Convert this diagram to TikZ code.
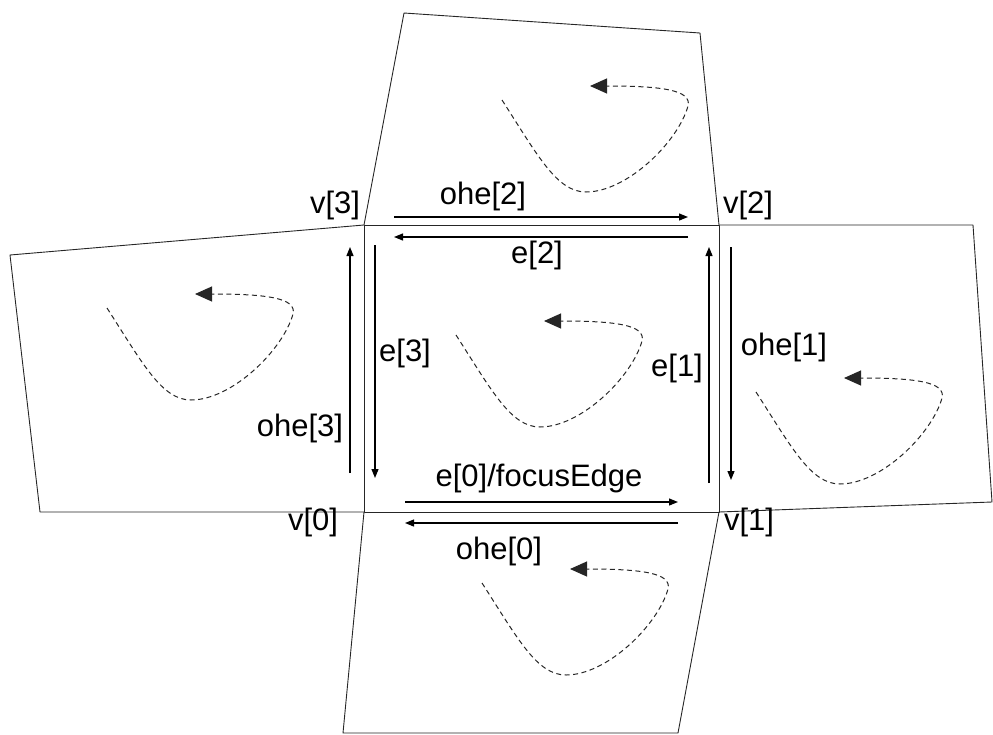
\documentclass[tikz,border=0pt]{standalone}
\usepackage{fontspec}
\setmainfont{Liberation Sans}
\usetikzlibrary{arrows.meta}

\tikzset{
  face/.style={draw=black!85, line width=0.9pt, line join=round},
  halfedge/.style={black, line width=1.2pt, -{Triangle[length=9pt,width=7pt]}},
  lbl/.style={font=\fontsize{31}{36}\selectfont, inner sep=0pt},
  turn/.pic={
    \draw[black!85, line width=1pt, dash pattern=on 5pt off 3.5pt,
          -{Triangle[length=17pt,width=15pt]}]
      (0,0) .. controls (36,56) and (55,92) .. (84,92)
            .. controls (125,92) and (176,42) .. (186,6)
            .. controls (190,-10) and (160,-14) .. (88,-14);
  }
}

\begin{document}
\begin{tikzpicture}[x=1pt, y=-1pt]
  \useasboundingbox (0,0) rectangle (993,734);

  % vertices of the focus face and its neighbours
  \coordinate (v0) at (364,512);
  \coordinate (v1) at (719,512);
  \coordinate (v2) at (719,225);
  \coordinate (v3) at (364,225);
  \coordinate (t3) at (404,13);
  \coordinate (t2) at (700,33);
  \coordinate (l3) at (10,255);
  \coordinate (l0) at (40,512);
  \coordinate (r2) at (973,225);
  \coordinate (r1) at (992,502);
  \coordinate (b1) at (678,733);
  \coordinate (b0) at (343,733);

  % faces
  \draw[face] (v0) -- (v1) -- (v2) -- (v3) -- cycle;
  \draw[face] (v3) -- (t3) -- (t2) -- (v2);
  \draw[face] (v3) -- (l3) -- (l0) -- (v0);
  \draw[face] (v2) -- (r2) -- (r1) -- (v1);
  \draw[face] (v1) -- (b1) -- (b0) -- (v0);

  % ends of the half-edges
  \coordinate (ohe2s) at (394,217);  \coordinate (ohe2t) at (688,217);
  \coordinate (e2s)   at (688,237);  \coordinate (e2t)   at (394,237);
  \coordinate (ohe3s) at (350,473);  \coordinate (ohe3t) at (350,247);
  \coordinate (e3s)   at (375,245);  \coordinate (e3t)   at (375,478);
  \coordinate (e1s)   at (709,483);  \coordinate (e1t)   at (709,247);
  \coordinate (ohe1s) at (731,247);  \coordinate (ohe1t) at (731,480);
  \coordinate (e0s)   at (405,502);  \coordinate (e0t)   at (678,502);
  \coordinate (ohe0s) at (678,523);  \coordinate (ohe0t) at (405,523);

  \draw[halfedge] (ohe2s) -- (ohe2t);
  \draw[halfedge] (e2s) -- (e2t);
  \draw[halfedge] (ohe3s) -- (ohe3t);
  \draw[halfedge] (e3s) -- (e3t);
  \draw[halfedge] (e1s) -- (e1t);
  \draw[halfedge] (ohe1s) -- (ohe1t);
  \draw[halfedge] (e0s) -- (e0t);
  \draw[halfedge] (ohe0s) -- (ohe0t);

  % labels
  \node[lbl] (lv3) at (335,205) {v[3]};
  \node[lbl] (lv2) at (748,205) {v[2]};
  \node[lbl] (lv0) at (313,522) {v[0]};
  \node[lbl] (lv1) at (749,522) {v[1]};
  \node[lbl] (lohe2) at (483,196) {ohe[2]};
  \node[lbl] (le2) at (537,255) {e[2]};
  \node[lbl] (lohe3) at (300,428) {ohe[3]};
  \node[lbl] (le3) at (405,353) {e[3]};
  \node[lbl] (le1) at (677,368) {e[1]};
  \node[lbl] (lohe1) at (784,347) {ohe[1]};
  \node[lbl] (le0) at (539,478) {e[0]/focusEdge};
  \node[lbl] (lohe0) at (499,551) {ohe[0]};

  % orientation of each face
  \pic at (502,100) {turn};
  \pic at (456,335) {turn};
  \pic at (107,308) {turn};
  \pic at (756,392) {turn};
  \pic at (482,583) {turn};
\end{tikzpicture}
\end{document}
